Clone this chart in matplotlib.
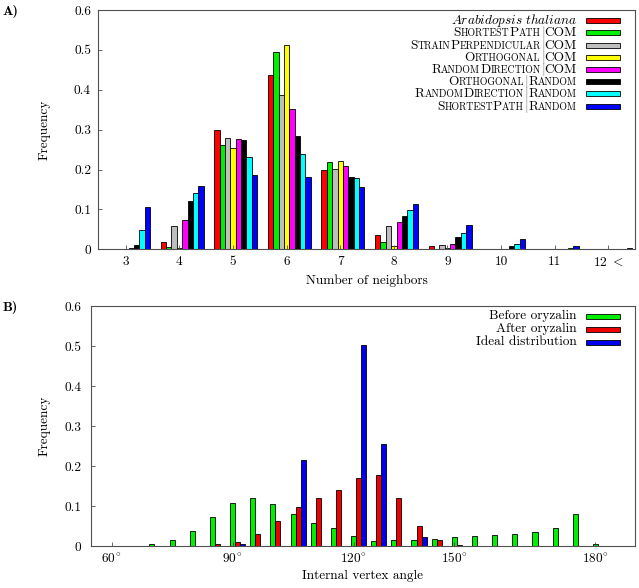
import re
import numpy as np
import matplotlib
matplotlib.use("Agg")
import matplotlib.pyplot as plt
from matplotlib.offsetbox import AnchoredOffsetbox, TextArea, HPacker, DrawingArea
from matplotlib.patches import Rectangle

# --- Panel A: number of neighbors ---
neighbor_pos = [3, 4, 5, 6, 7, 8, 9, 10, 11, 12]
neighbor_labels = ["3", "4", "5", "6", "7", "8", "9", "10", "11", r"$12\ <$"]

arabidopsis = [0.000, 0.018, 0.300, 0.436, 0.200, 0.036, 0.008, 0.000, 0.000, 0.000]
sp_com      = [0.000, 0.005, 0.262, 0.494, 0.219, 0.018, 0.001, 0.000, 0.000, 0.000]
sperp_com   = [0.001, 0.058, 0.280, 0.386, 0.201, 0.059, 0.011, 0.001, 0.000, 0.000]
orth_com    = [0.000, 0.003, 0.254, 0.511, 0.221, 0.009, 0.003, 0.001, 0.000, 0.000]
rd_com      = [0.003, 0.073, 0.277, 0.352, 0.209, 0.069, 0.013, 0.002, 0.000, 0.000]
orth_rand   = [0.012, 0.122, 0.274, 0.283, 0.181, 0.084, 0.031, 0.008, 0.002, 0.001]
rd_rand     = [0.048, 0.142, 0.231, 0.240, 0.179, 0.098, 0.041, 0.013, 0.004, 0.002]
sp_rand     = [0.105, 0.158, 0.187, 0.181, 0.156, 0.114, 0.060, 0.026, 0.008, 0.003]

series_a = [arabidopsis, sp_com, sperp_com, orth_com, rd_com, orth_rand, rd_rand, sp_rand]
names_a = ["ITALIC", "ShortestPath|COM", "StrainPerpendicular|COM", "Orthogonal|COM",
           "RandomDirection|COM", "Orthogonal|Random", "RandomDirection|Random",
           "ShortestPath|Random"]
colors_a = ["#ff0000", "#00ee00", "#bebebe", "#ffff00", "#ff00ff", "#000000", "#00ffff", "#0000ff"]

# --- Panel B: internal vertex angle ---
angle_bins = [65, 70, 75, 80, 85, 90, 95, 100, 105, 110, 115, 120,
              125, 130, 135, 140, 145, 150, 155, 160, 165, 170, 175, 180]
before_oryzalin = [0.001, 0.005, 0.014, 0.038, 0.072, 0.107, 0.119, 0.104, 0.079, 0.058, 0.046, 0.025,
                   0.012, 0.014, 0.016, 0.017, 0.022, 0.025, 0.027, 0.030, 0.035, 0.045, 0.079, 0.005]
after_oryzalin  = [0.001, 0.000, 0.000, 0.001, 0.004, 0.011, 0.029, 0.062, 0.097, 0.120, 0.140, 0.170,
                   0.178, 0.120, 0.049, 0.015, 0.002, 0.000, 0.000, 0.000, 0.000, 0.000, 0.000, 0.000]
ideal_dist      = [0.000, 0.000, 0.000, 0.000, 0.000, 0.004, 0.000, 0.000, 0.215, 0.000, 0.000, 0.503,
                   0.256, 0.000, 0.022, 0.000, 0.000, 0.000, 0.000, 0.000, 0.000, 0.000, 0.000, 0.000]
series_b = [before_oryzalin, after_oryzalin, ideal_dist]
names_b = ["Before oryzalin", "After oryzalin", "Ideal distribution"]
colors_b = ["#00ee00", "#ee0000", "#0000ee"]

angle_ticks = [60, 90, 120, 145, 180]
angle_tick_labels = [r"$60^{\!\circ}$", r"$90^{\!\circ}$", r"$120^{\!\circ}$", r"$150^{\!\circ}$", r"$180^{\!\circ}$"]

freq_ticks = [0, 0.1, 0.2, 0.3, 0.4, 0.5, 0.6]
freq_tick_labels = ["0", "0.1", "0.2", "0.3", "0.4", "0.5", "0.6"]

# --- style ---
fs = 9.6
matplotlib.rcParams.update({
    "font.family": "cmr10",
    "mathtext.fontset": "cm",
    "axes.unicode_minus": False,
    "font.size": fs,
})
frame_color = "#505050"


def label_box(name):
    # fake small caps: capitals big, lower case -> smaller capitals
    if name == "ITALIC":
        return TextArea(r"$\mathit{Arabidopsis\ thaliana}$", textprops=dict(fontsize=fs))
    parts = []
    for chunk in re.findall(r"[A-Z]+|[a-z]+|\|", name):
        if chunk == "|":
            parts.append(TextArea(r"$|$", textprops=dict(fontsize=fs, color="#707070")))
        elif chunk.islower():
            parts.append(TextArea(chunk.upper(), textprops=dict(fontsize=fs * 0.74, family="cmr10")))
        else:
            parts.append(TextArea(chunk, textprops=dict(fontsize=fs, family="cmr10")))
    return HPacker(children=parts, align="baseline", pad=0, sep=0)


def add_legend_row(ax, text_box, color, x, y):
    da = DrawingArea(24.5, 3.6, 0, 0)
    da.add_artist(Rectangle((0, 0), 24.5, 3.6, facecolor=color, edgecolor="black", linewidth=0.6))
    row = HPacker(children=[text_box, da], align="center", pad=0, sep=6.5)
    ab = AnchoredOffsetbox(loc="center right", child=row, pad=0, borderpad=0, frameon=False,
                           bbox_to_anchor=(x, y), bbox_transform=ax.transAxes)
    ax.add_artist(ab)


def style_axes(ax):
    for sp in ax.spines.values():
        sp.set_color(frame_color)
        sp.set_linewidth(0.8)
    ax.tick_params(direction="in", length=3, width=0.6, color=frame_color,
                   top=False, right=False, labelsize=fs)
    ax.set_ylim(0, 0.6)
    ax.set_yticks(freq_ticks)
    ax.set_yticklabels(freq_tick_labels)


fig = plt.figure(figsize=(6.39, 5.88), dpi=100)

# --- Panel A ---
ax1 = fig.add_axes([98 / 639, 1 - 249.3 / 588, 537 / 639, 239.3 / 588])
pos = np.array(neighbor_pos, dtype=float)
for i, (vals, c) in enumerate(zip(series_a, colors_a)):
    ax1.bar(pos + 0.1 * i - 0.3, vals, width=0.1, color=c, edgecolor="black", linewidth=0.6)
style_axes(ax1)
ax1.set_xlim(2.48, 12.5)
ax1.set_xticks(neighbor_pos)
ax1.set_xticklabels(neighbor_labels)
ax1.tick_params(axis="x", pad=5)
ax1.tick_params(axis="y", pad=5)
ax1.set_xlabel("Number of neighbors", fontsize=fs)
ax1.xaxis.set_label_coords(0.5, -0.105)
ax1.set_ylabel("Frequency", fontsize=fs)
ax1.yaxis.set_label_coords(-0.099, 0.5)
ax1.yaxis.label.set_va("center")
for i, (n, c) in enumerate(zip(names_a, colors_a)):
    y_px = 20.7 + 12.2 * i
    add_legend_row(ax1, label_box(n), c, (620 - 98) / 537, 1 - (y_px - 10) / 239.3)

# --- Panel B ---
ax2 = fig.add_axes([91 / 639, 1 - 546 / 588, 544 / 639, 240 / 588])
bins = np.array(angle_bins, dtype=float)
for i, (vals, c) in enumerate(zip(series_b, colors_b)):
    ax2.bar(bins + 1.25 * i, vals, width=1.25, color=c, edgecolor="black", linewidth=0.6)
style_axes(ax2)
ax2.set_xlim(54.9, 189.8)
ax2.set_xticks(angle_ticks)
ax2.set_xticklabels(angle_tick_labels)
ax2.tick_params(axis="x", pad=4)
ax2.tick_params(axis="y", pad=7)
ax2.set_xlabel("Internal vertex angle", fontsize=fs)
ax2.xaxis.set_label_coords(0.5, -0.1)
ax2.set_ylabel("Frequency", fontsize=fs)
ax2.yaxis.set_label_coords(-0.085, 0.5)
ax2.yaxis.label.set_va("center")
for i, (n, c) in enumerate(zip(names_b, colors_b)):
    y_px = 316 + 13.2 * i
    add_legend_row(ax2, TextArea(n, textprops=dict(fontsize=fs, family="cmr10")), c,
                   (620 - 91) / 544, 1 - (y_px - 306) / 240)

# panel letters
fig.text(3 / 639, 1 - 11 / 588, "A)", family="cmb10", fontsize=10, va="center", ha="left")
fig.text(3 / 639, 1 - 308 / 588, "B)", family="cmb10", fontsize=10, va="center", ha="left")

fig.savefig("out.png", dpi=100)
plt.close(fig)
